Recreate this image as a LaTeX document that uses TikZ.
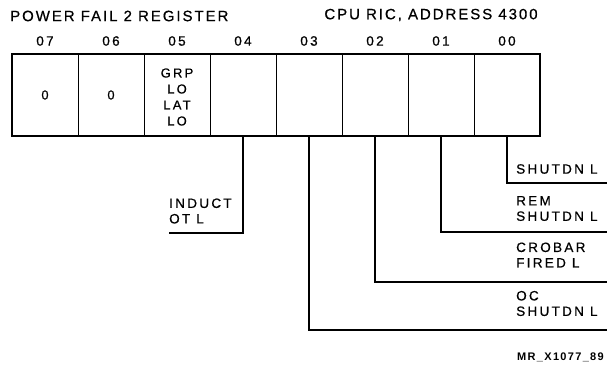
\documentclass[tikz,border=0pt]{standalone}
\usepackage{fontspec}
\setmainfont{Liberation Sans}
\newfontfamily\labfont[LetterSpace=17,FakeBold=0.6]{Liberation Sans}
\newfontfamily\titlefont[LetterSpace=13,FakeBold=0.6]{Liberation Sans}
\newfontfamily\lsboldfont[LetterSpace=12]{Liberation Sans Bold}
\begin{document}
\begin{tikzpicture}[x=1pt,y=-1pt,
  cell/.style={draw,line width=0.9pt,minimum width=66pt,minimum height=82pt,inner sep=0pt,outer sep=0pt,
    font=\labfont\fontsize{13}{16}\selectfont,align=center},
  bitnum/.style={font=\labfont\fontsize{13.5}{15}\selectfont,inner sep=0pt},
  title/.style={font=\titlefont\fontsize{15}{16}\selectfont,inner sep=0pt},
  lab/.style={font=\labfont\fontsize{13.5}{15.5}\selectfont,align=left,anchor=west,inner sep=0pt},
  wire/.style={line width=1.1pt},
  frame/.style={draw,line width=2pt}]
\useasboundingbox (0,0) rectangle (607,364);
% cells
\node[cell] (b07) at (45,95) {0};
\node[cell] (b06) at (111,95) {0};
\node[cell] (b05) at (177,95) {};
\node[font=\labfont\fontsize{13}{16}\selectfont,align=center,inner sep=0pt] (t05) at (177,97) {GRP\\LO\\LAT\\LO};
\node[cell] (b04) at (243,95) {};
\node[cell] (b03) at (309,95) {};
\node[cell] (b02) at (375,95) {};
\node[cell] (b01) at (441,95) {};
\node[cell] (b00) at (507,95) {};
\draw[frame] (b07.north west) rectangle (b00.south east);
% bit numbers
\foreach \b/\t in {07/07,06/06,05/05,04/04,03/03,02/02,01/01,00/00}
  \node[bitnum] (n\b) at ([yshift=13pt]b\b.north) {\t};
% titles
\node[title,anchor=west] (t1) at (10,16) {POWER FAIL 2 REGISTER};
\node[title] (t2) at (431,15) {CPU RIC, ADDRESS 4300};
% end coordinates
\coordinate (e04) at (169,233);
\coordinate (e03) at (607,330);
\coordinate (e02) at (607,282);
\coordinate (e01) at (607,232);
\coordinate (e00) at (607,183);
\draw[wire] (b04.south) |- (e04);
\draw[wire] (b03.south) |- (e03);
\draw[wire] (b02.south) |- (e02);
\draw[wire] (b01.south) |- (e01);
\draw[wire] (b00.south) |- (e00);
% labels
\node[lab] (l04) at (169,211) {INDUCT\\OT L};
\node[lab] (l00) at (516,169) {SHUTDN L};
\node[lab] (l01) at (516,208.5) {REM\\SHUTDN L};
\node[lab] (l02) at (516,255) {CROBAR\\FIRED L};
\node[lab] (l03) at (516,303.5) {OC\\SHUTDN L};
\node[font=\lsboldfont\fontsize{11}{11}\selectfont,anchor=west,inner sep=0pt] (fig) at (517,357) {MR\_X1077\_89};
\end{tikzpicture}
\end{document}
